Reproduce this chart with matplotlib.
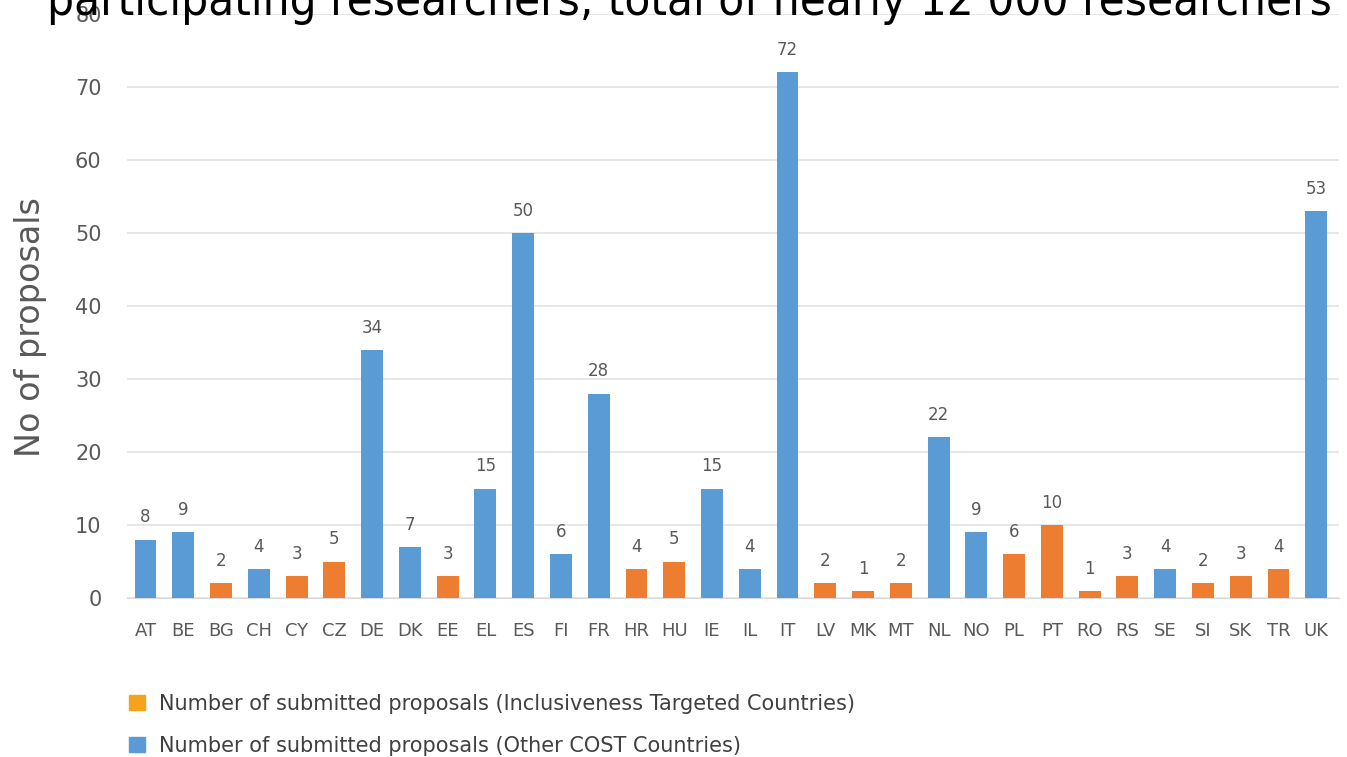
import matplotlib.pyplot as plt
from matplotlib.patches import Patch

countries = ["AT", "BE", "BG", "CH", "CY", "CZ", "DE", "DK", "EE", "EL", "ES", "FI",
             "FR", "HR", "HU", "IE", "IL", "IT", "LV", "MK", "MT", "NL", "NO", "PL",
             "PT", "RO", "RS", "SE", "SI", "SK", "TR", "UK"]
proposals = [8, 9, 2, 4, 3, 5, 34, 7, 3, 15, 50, 6,
             28, 4, 5, 15, 4, 72, 2, 1, 2, 22, 9, 6,
             10, 1, 3, 4, 2, 3, 4, 53]
# True = Inclusiveness Targeted Country
itc = [False, False, True, False, True, True, False, False, True, False, False, False,
       False, True, True, False, False, False, True, True, True, False, False, True,
       True, True, True, False, True, True, True, False]

BLUE = "#5B9BD5"
ORANGE = "#ED7D31"
GRAY = "#595959"

fig = plt.figure(figsize=(13.47, 7.57), dpi=100)
ax = fig.add_axes([0.094, 0.21, 0.9, 0.7715])

colors = [ORANGE if t else BLUE for t in itc]
x = range(len(countries))
ax.bar(x, proposals, width=0.58, color=colors, zorder=3)

for xi, v in zip(x, proposals):
    ax.text(xi, v + 1.8, str(v), ha="center", va="bottom", fontsize=12, color=GRAY)

ax.set_xlim(-0.5, 31.6)
ax.set_ylim(0, 80)
ax.set_yticks(range(0, 81, 10))
ax.set_xticks(list(x))
ax.set_xticklabels(countries)
ax.tick_params(axis="x", length=0, pad=17, labelsize=13, labelcolor=GRAY)
ax.tick_params(axis="y", length=0, pad=18, labelsize=15, labelcolor=GRAY)
ax.grid(axis="y", color="#E3E3E3", linewidth=1.2, zorder=0)
for s in ["top", "right", "left"]:
    ax.spines[s].set_visible(False)
ax.spines["bottom"].set_color("#D9D9D9")
ax.set_ylabel("No of proposals", fontsize=24, color=GRAY)
ax.yaxis.set_label_coords(-0.066, 0.464)

handles = [Patch(color="#F7A21B", label="Number of submitted proposals (Inclusiveness Targeted Countries)"),
           Patch(color=BLUE, label="Number of submitted proposals (Other COST Countries)")]
fig.legend(handles=handles, loc="upper left", bbox_to_anchor=(0.082, 0.108),
           frameon=False, fontsize=15, labelcolor="#404040", handlelength=0.75,
           handleheight=0.75, handletextpad=0.7, labelspacing=1.05)

# title of the slide, cut off at the top edge in the source image
fig.text(0.035, 1 - 15 / 757, "participating researchers; total of nearly 12 000 researchers",
         fontsize=34, family="DejaVu Sans", fontstretch="condensed", va="baseline",
         ha="left", color="black")

fig.savefig("out.png", dpi=100)
